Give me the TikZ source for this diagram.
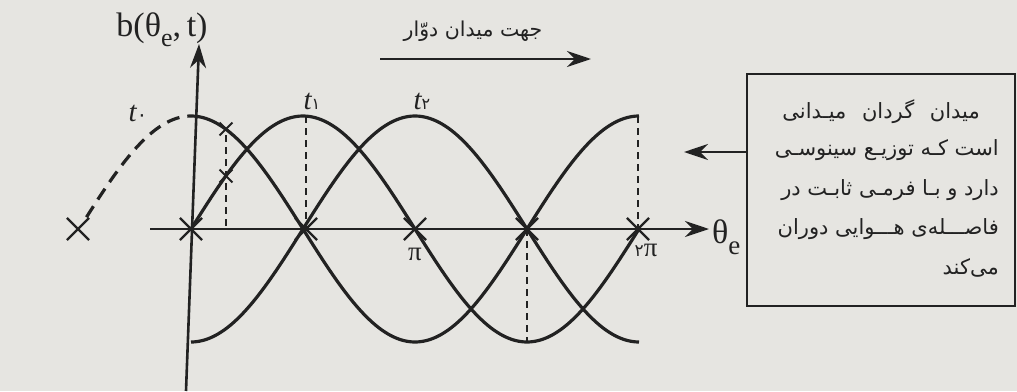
\documentclass[tikz,border=0pt]{standalone}
\usepackage{fontspec}
\setmainfont{Liberation Serif}
\newfontfamily\fa[Script=Arabic]{DejaVu Sans}
\TeXXeTstate=1
\usetikzlibrary{arrows.meta,shapes.misc}
\definecolor{ink}{HTML}{222222}
\definecolor{paper}{HTML}{E6E5E1}
\begin{document}
\begin{tikzpicture}[x=1pt,y=-1pt,
  arr/.style={draw=ink,line width=2.6pt,-{Stealth[length=24pt,width=16pt]}},
  curve/.style={draw=ink,line width=3.2pt},
  tzero/.style={draw=ink,line width=3.2pt,dash pattern=on 13pt off 8pt},
  guide/.style={draw=ink,line width=1.9pt,dash pattern=on 7pt off 5pt},
  xmark/.style={cross out,draw=ink,line width=2.2pt,minimum size=20pt,inner sep=0pt},
  smallx/.style={cross out,draw=ink,line width=1.9pt,minimum size=11pt,inner sep=0pt},
  tlab/.style={text=ink,inner sep=0pt,font=\fontsize{29}{30}\selectfont\itshape},
  falab/.style={text=ink,inner sep=0pt,font=\fa\fontsize{20.5}{22}\selectfont},
  boxtext/.style={text=ink,inner sep=0pt,anchor=east,font=\fa\fontsize{21}{24}\selectfont}
]
\fill[paper] (0,0) rectangle (1017,391);
\useasboundingbox (0,0) rectangle (1017,391);

% axes
\coordinate (vbot) at (186,391);
\coordinate (vtop) at (199,44);
\draw[arr] (vbot) -- (vtop);
\coordinate (hl) at (150,229);
\coordinate (hr) at (709,229);
\draw[arr] (hl) -- (hr);

% waves
\draw[curve] plot[domain=0:360,samples=121,smooth,variable=\a] ({191+1.24444*\a},{229-113*cos(\a)});
\draw[curve] plot[domain=0:360,samples=121,smooth,variable=\a] ({191+1.24444*\a},{229-113*sin(\a)});
\draw[curve] plot[domain=0:360,samples=121,smooth,variable=\a] ({191+1.24444*\a},{229+113*cos(\a)});
\draw[tzero] plot[domain=-84:0,samples=30,smooth,variable=\a] ({191+1.24444*\a},{229-113*cos(\a)});

% guides
\coordinate (p1) at (306,116); \coordinate (a1) at (306,229);
\coordinate (p3) at (527,342); \coordinate (a3) at (527,229);
\coordinate (p4) at (638,116); \coordinate (a4) at (638,229);
\coordinate (q0) at (226,229);
\draw[guide] (p1) -- (a1);
\draw[guide] (a3) -- (p3);
\draw[guide] (p4) -- (a4);

% marks
\node[xmark] (m0) at (78,229) {};
\node[xmark] (m1) at (191,229) {};
\node[xmark] (m2) at (306,229) {};
\node[xmark] (m3) at (415,229) {};
\node[xmark] (m4) at (527,229) {};
\node[xmark] (m5) at (638,229) {};
\node[smallx] (c1) at (226,129) {};
\node[smallx] (c2) at (226,176) {};
\draw[guide] (c1) -- (q0);

% labels
\node[text=ink,inner sep=0pt,font=\fontsize{34}{36}\selectfont] (blab) at (162,30) {b(θ\raisebox{-0.3em}{\fontsize{26}{28}\selectfont e},\,t)};
\node[text=ink,inner sep=0pt,anchor=west,font=\fontsize{34}{36}\selectfont] (thlab) at (712,237) {θ\raisebox{-0.33em}{\fontsize{27}{28}\selectfont e}};
\node[text=ink,inner sep=0pt,font=\fontsize{27}{28}\selectfont] (pilab) at (415,254) {π};
\node[text=ink,inner sep=0pt,font=\fontsize{27}{28}\selectfont] (tpilab) at (646,250) {{\fa\fontsize{17}{18}\selectfont ۲}π};
\node[tlab] (t0) at (138,113) {t{\fa\upshape\fontsize{20}{21}\selectfont ۰}};
\node[tlab] (t1) at (312,101) {t{\fa\upshape\fontsize{16}{17}\selectfont ۱}};
\node[tlab] (t2) at (422,101) {t{\fa\upshape\fontsize{16}{17}\selectfont ۲}};

% direction arrow
\coordinate (ta) at (380,59);
\coordinate (tb) at (591,59);
\draw[arr] (ta) -- (tb);
\node[falab] (dir) at (473,31) {\hbox{\beginR جهت میدان دوّار\endR}};

% box
\node[draw=ink,line width=2.2pt,minimum width=268pt,minimum height=232pt,anchor=north west,inner sep=0pt] (box) at (746,73) {};
\coordinate (bw) at (746,152);
\coordinate (bl) at (684,152);
\draw[arr] (bw) -- (bl);
\node[boxtext] (l1) at (980,112) {\hbox{\beginR میدان\hspace{9pt} گردان\hspace{9pt} میـدانی\endR}};
\node[boxtext] (l2) at (999,150) {\hbox{\beginR است کـه توزیـع سینوسـی\endR}};
\node[boxtext] (l3) at (999,190) {\hbox{\beginR دارد و بـا فرمـی ثابـت در\endR}};
\node[boxtext] (l4) at (999,229) {\hbox{\beginR فاصـــله‌ی هـــوایی دوران\endR}};
\node[boxtext] (l5) at (999,268) {\hbox{\beginR می‌کند\endR}};
\end{tikzpicture}
\end{document}
